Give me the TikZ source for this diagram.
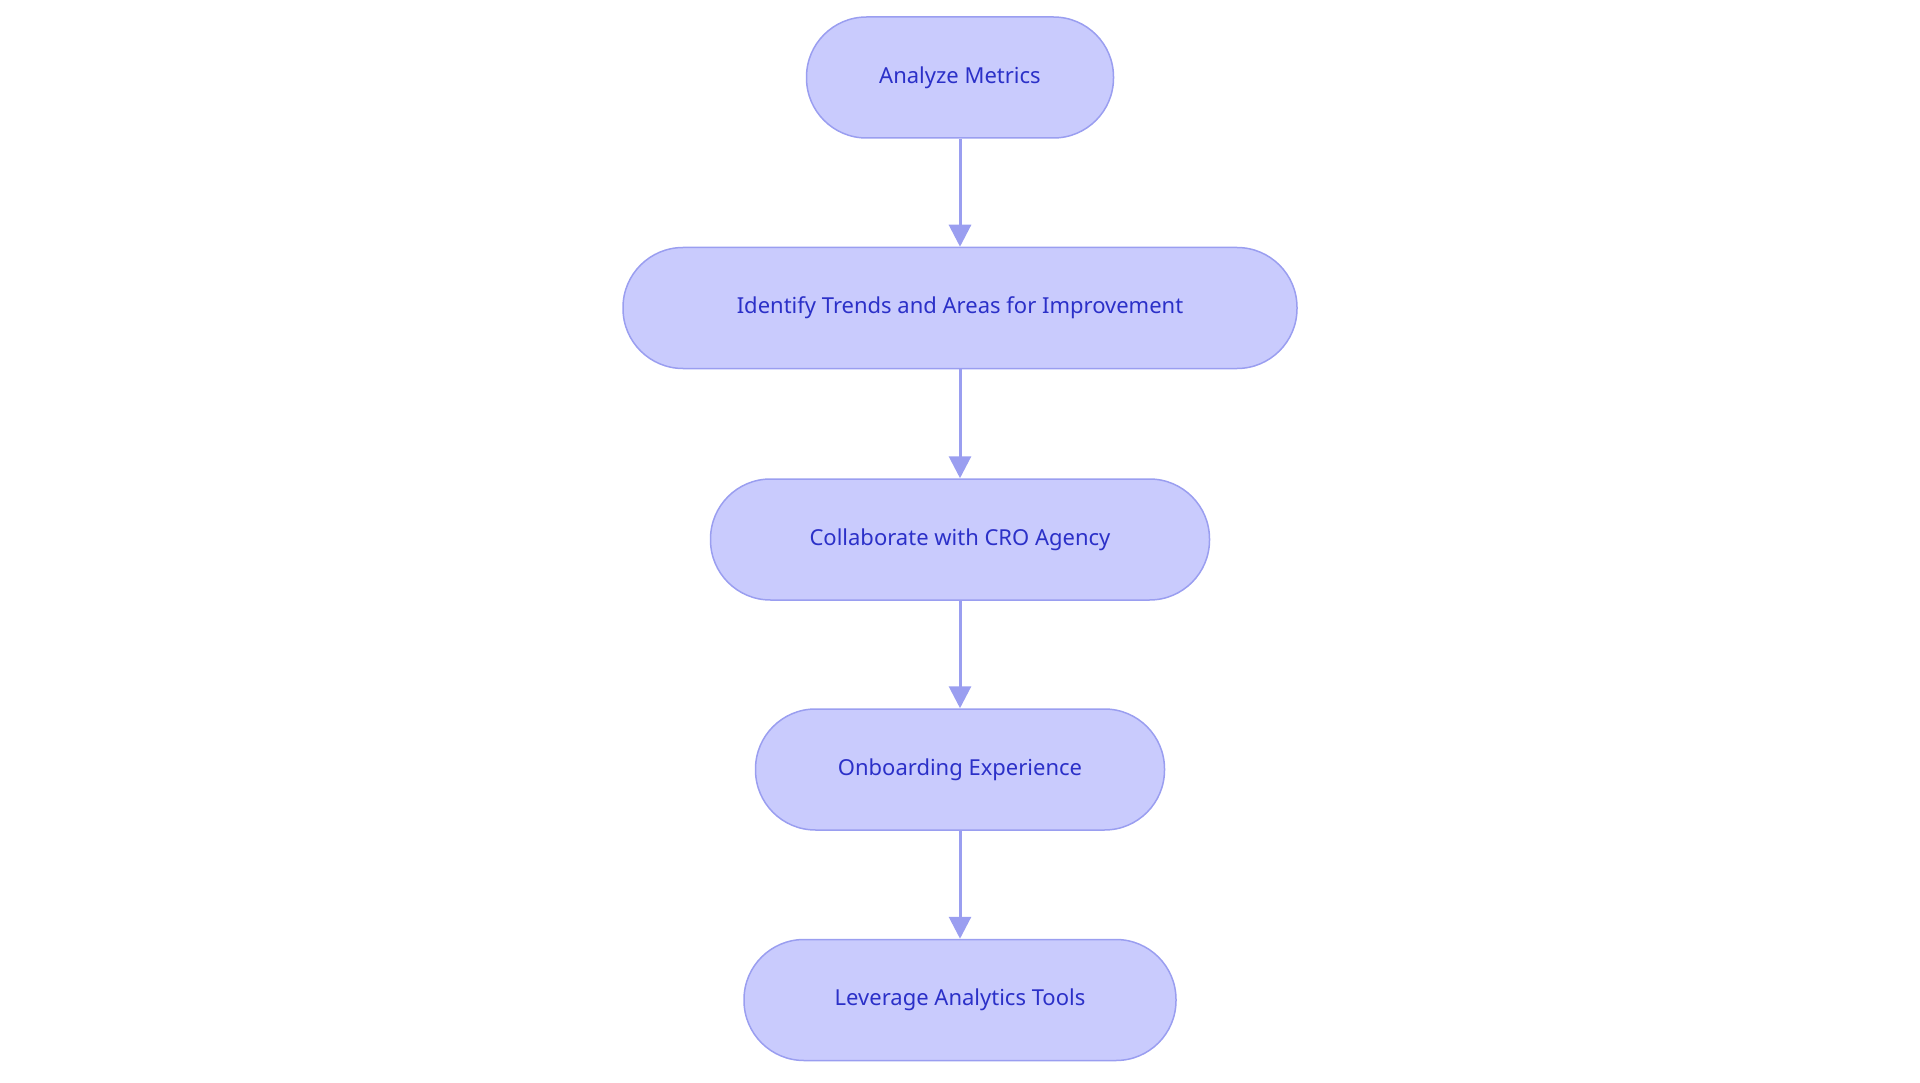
\documentclass[tikz,border=0pt]{standalone}
\usepackage{fontspec}
\setmainfont{Noto Sans}
\definecolor{fillc}{HTML}{C9CBFD}
\definecolor{linec}{HTML}{9A9EF0}
\definecolor{textc}{HTML}{2B30C8}
\usetikzlibrary{arrows.meta}
\begin{document}
\begin{tikzpicture}[x=1pt,y=-1pt,
  box/.style={draw=linec,line width=1.5pt,fill=fillc,rounded corners=60pt,minimum height=121pt,inner sep=0pt,text=textc,font=\fontsize{22}{26}\selectfont},
  arr/.style={draw=linec,line width=3pt,-{Triangle[length=22pt,width=22pt]}}]
\useasboundingbox (0,0) rectangle (1920,1083);
\node[box,minimum width=307pt] (a) at (960,77.5) {Analyze Metrics};
\node[box,minimum width=674pt] (b) at (960,308) {Identify Trends and Areas for Improvement};
\node[box,minimum width=499pt] (c) at (960,539.5) {Collaborate with CRO Agency};
\node[box,minimum width=409pt] (d) at (960,769.5) {Onboarding Experience};
\node[box,minimum width=432pt] (e) at (960,1000) {Leverage Analytics Tools};
\draw[arr] (a) -- (b);
\draw[arr] (b) -- (c);
\draw[arr] (c) -- (d);
\draw[arr] (d) -- (e);
\end{tikzpicture}
\end{document}
